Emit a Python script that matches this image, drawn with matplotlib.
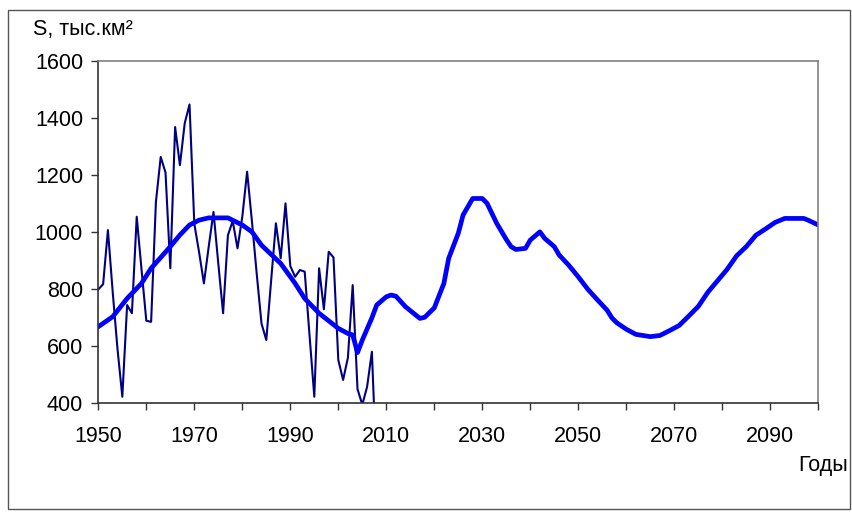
import matplotlib
matplotlib.use("Agg")
import matplotlib.pyplot as plt
from matplotlib.patches import Rectangle

plt.rcParams['font.family'] = ['Liberation Sans', 'DejaVu Sans']

# observed annual values
obs_years = list(range(1950, 2009))
obs_values = [800, 818, 1008, 790, 590, 423, 745, 716, 1055, 870,
              690, 686, 1107, 1265, 1210, 874, 1370, 1236, 1383, 1449,
              1030, 930, 821, 950, 1072, 890, 716, 990, 1040, 944,
              1055, 1213, 1040, 855, 680, 622, 830, 1032, 909, 1102,
              882, 844, 868, 862, 640, 423, 874, 730, 932, 912,
              552, 482, 560, 815, 450, 395, 458, 581, 150]

# smoothed / forecast curve
fit_years = [1950, 1953, 1956, 1959, 1961, 1965, 1967, 1969, 1971, 1973,
             1977, 1980, 1982, 1984, 1988, 1991, 1993, 1996, 2000, 2002,
             2003, 2004, 2005, 2007, 2008, 2010, 2011, 2012, 2014, 2017,
             2018, 2020, 2022, 2023, 2025, 2026, 2028, 2030, 2031, 2033,
             2035, 2036, 2037, 2039, 2040, 2042, 2043, 2045, 2046, 2048,
             2050, 2052, 2054, 2056, 2057, 2058, 2060, 2062, 2065, 2067,
             2069, 2071, 2073, 2075, 2077, 2079, 2081, 2083, 2085, 2087,
             2089, 2091, 2093, 2097, 2098, 2100]
fit_values = [669, 704, 768, 821, 874, 950, 991, 1026, 1043, 1051,
              1051, 1026, 1002, 955, 891, 821, 768, 716, 663, 645,
              640, 578, 622, 700, 745, 774, 780, 776, 739, 698,
              702, 735, 821, 909, 997, 1061, 1119, 1119, 1102, 1032,
              975, 950, 940, 944, 973, 1002, 979, 950, 921, 885,
              844, 800, 763, 727, 700, 683, 660, 642, 634, 638,
              655, 673, 706, 740, 790, 830, 870, 918, 950, 990,
              1012, 1035, 1049, 1049, 1042, 1026]

xticks = list(range(1950, 2101, 10))
xlabels = [str(y) if (y - 1950) % 20 == 0 else '' for y in xticks]
yticks = [400, 600, 800, 1000, 1200, 1400, 1600]

fig = plt.figure(figsize=(8.52, 5.15), dpi=100)
ax = fig.add_axes([0.1154, 0.2169, 0.845, 0.6637])

ax.plot(obs_years, obs_values, color='#000080', lw=1.5, clip_on=True)
ax.plot(fit_years, fit_values, color='#0000ff', lw=3.4, solid_joinstyle='round')

ax.set_xlim(1950, 2100)
ax.set_ylim(400, 1600)
ax.set_xticks(xticks)
ax.set_xticklabels(xlabels)
ax.set_yticks(yticks)
ax.tick_params(axis='both', direction='out', length=5, width=1, colors='#333333',
               labelsize=15.5, labelcolor='black')
ax.tick_params(axis='x', pad=11)
ax.tick_params(axis='y', pad=6)

for side in ['left', 'bottom']:
    ax.spines[side].set_color('#333333')
for side in ['top', 'right']:
    ax.spines[side].set_color('#808080')
for s in ax.spines.values():
    s.set_linewidth(1.2)

fig.text(33 / 852, 1 - 30 / 515, 'S, тыс.км²', fontsize=15.5, ha='left', va='center')
fig.text(848 / 852, 1 - 465 / 515, 'Годы', fontsize=15.5, ha='right', va='center')

# outer frame around the whole picture
fig.patches.append(Rectangle((8 / 852, 6 / 515), 842 / 852, 499 / 515,
                             transform=fig.transFigure, fill=False,
                             edgecolor='#555555', lw=1))

fig.savefig('out.png', dpi=100)
